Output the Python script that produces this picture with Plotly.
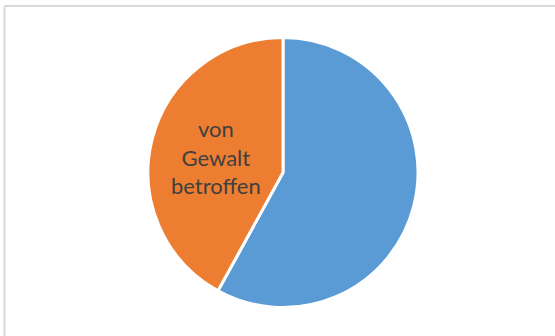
import plotly.graph_objects as go

labels = ["nicht von Gewalt betroffen", "von Gewalt betroffen"]
values = [58, 42]
colors = ["#5B9BD5", "#ED7D31"]
shown_label = "von<br>Gewalt<br>betroffen"

W, H = 555, 336
cx, cy, r = 283, 172.5, 135

fig = go.Figure()
fig.add_trace(go.Pie(
    labels=labels,
    values=values,
    sort=False,
    direction="clockwise",
    rotation=0,
    marker=dict(colors=colors, line=dict(color="white", width=3)),
    textinfo="none",
    hoverinfo="label+percent",
    showlegend=False,
    domain=dict(x=[(cx - r) / W, (cx + r) / W], y=[1 - (cy + r) / H, 1 - (cy - r) / H]),
))

fig.add_annotation(
    x=216 / W, y=1 - 157 / H, xref="paper", yref="paper",
    text=shown_label, showarrow=False,
    font=dict(family="Lato", size=22, color="#404040"),
    align="center",
)

# frame (top and left edges visible in reference)
fig.add_shape(type="line", xref="paper", yref="paper",
              x0=4.5 / W, x1=1.02, y0=1 - 6 / H, y1=1 - 6 / H,
              line=dict(color="#D9D9D9", width=2))
fig.add_shape(type="line", xref="paper", yref="paper",
              x0=4.5 / W, x1=4.5 / W, y0=-0.02, y1=1 - 6 / H,
              line=dict(color="#D9D9D9", width=2))

fig.update_layout(
    width=W, height=H,
    margin=dict(l=0, r=0, t=0, b=0),
    paper_bgcolor="white",
    plot_bgcolor="white",
)

fig.write_html("out.html")
